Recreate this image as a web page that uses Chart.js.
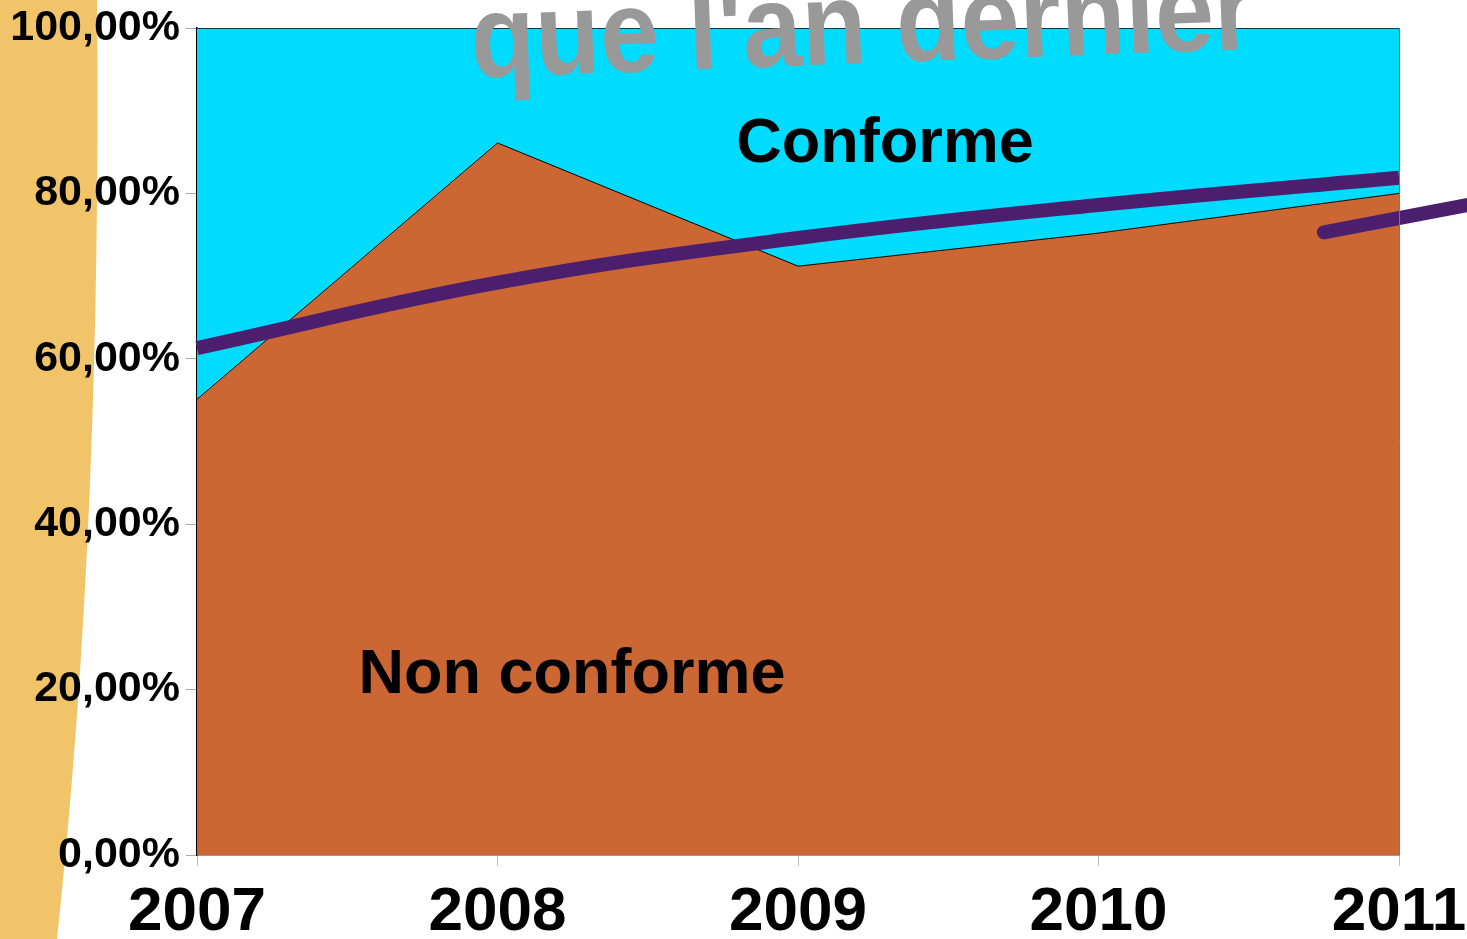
<!DOCTYPE html>
<html>
<head>
<meta charset="utf-8">
<script src="https://cdn.jsdelivr.net/npm/chart.js@4.4.1/dist/chart.umd.min.js"></script>
<style>
  html, body { margin: 0; padding: 0; background: #fff; }
  #wrap { width: 1467px; height: 939px; position: relative; }
</style>
</head>
<body>
<div id="wrap"><canvas id="conformiteChart"></canvas></div>
<script>
// Data
const years = [2007, 2008, 2009, 2010, 2011];
const nonConforme = [55.1, 86.1, 71.2, 75.2, 80.0];
const conforme = [44.9, 13.9, 28.8, 24.8, 20.0];
const tendance = [61.3, 69.2, 74.6, 78.6, 81.9];
// the loose purple stroke at the right edge
const suiteX = [2010.75, 2011.23];
const suiteY = [75.3, 78.6];
const yTicks = [0, 20, 40, 60, 80, 100];

const FONT = '"Liberation Sans", Arial, sans-serif';

// Background decoration + free text
const decorPlugin = {
  id: 'decor',
  beforeDraw(chart) {
    const ctx = chart.ctx;
    ctx.save();
    ctx.fillStyle = '#F2C46A';
    ctx.beginPath();
    ctx.moveTo(0, 0);
    ctx.lineTo(97, 0);
    ctx.quadraticCurveTo(102, 520, 57, 939);
    ctx.lineTo(0, 939);
    ctx.closePath();
    ctx.fill();
    ctx.restore();
  },
  afterDatasetsDraw(chart) {
    const ctx = chart.ctx;
    const area = chart.chartArea;
    ctx.save();
    // right border of the plot
    ctx.strokeStyle = '#777';
    ctx.lineWidth = 1;
    ctx.beginPath();
    ctx.moveTo(area.right + 0.5, area.top);
    ctx.lineTo(area.right + 0.5, area.bottom);
    ctx.stroke();

    ctx.fillStyle = '#000';
    ctx.font = 'bold 63px ' + FONT;
    ctx.textAlign = 'center';
    ctx.textBaseline = 'alphabetic';
    ctx.fillText('Conforme', 885, 162);
    ctx.fillText('Non conforme', 572, 693);

    // title fragment, cut by the top edge
    ctx.translate(864, 63);
    ctx.rotate(-2.1 * Math.PI / 180);
    ctx.scale(1.06, 1.18);
    ctx.fillStyle = '#999999';
    ctx.font = 'bold 100px ' + FONT;
    ctx.fillText("que l'an dernier", 0, 0);
    ctx.restore();
  }
};

const ctx = document.getElementById('conformiteChart');
new Chart(ctx, {
  type: 'line',
  data: {
    datasets: [{
      label: 'Non conforme',
      data: years.map((y, i) => ({ x: y, y: nonConforme[i] })),
      backgroundColor: '#CC6633',
      borderColor: '#000',
      borderWidth: 1,
      fill: 'origin',
      pointRadius: 0,
      tension: 0,
      stack: 'area'
    }, {
      label: 'Conforme',
      data: years.map((y, i) => ({ x: y, y: conforme[i] })),
      backgroundColor: '#00DCFF',
      borderColor: '#000',
      borderWidth: 1.5,
      fill: '-1',
      pointRadius: 0,
      tension: 0,
      stack: 'area'
    }, {
      label: 'Tendance',
      data: years.map((y, i) => ({ x: y, y: tendance[i] })),
      borderColor: '#4C1F6E',
      borderWidth: 14,
      fill: false,
      pointRadius: 0,
      tension: 0.4,
      borderCapStyle: 'butt',
      clip: false,
      order: -1,
      stack: 'trend'
    }, {
      label: 'Suite',
      data: suiteX.map((x, i) => ({ x: x, y: suiteY[i] })),
      borderColor: '#4C1F6E',
      borderWidth: 14,
      fill: false,
      pointRadius: 0,
      tension: 0,
      borderCapStyle: 'round',
      clip: false,
      order: -1,
      stack: 'suite'
    }]
  },
  options: {
    responsive: true,
    maintainAspectRatio: false,
    animation: false,
    layout: {
      padding: { left: 0, top: 28, right: 68, bottom: 0 }
    },
    plugins: {
      legend: { display: false },
      tooltip: { enabled: false }
    },
    scales: {
      x: {
        type: 'linear',
        min: 2007,
        max: 2011,
        afterFit: function(scale) {
          scale.height = 84;
          scale.paddingLeft = 0;
          scale.paddingRight = 0;
        },
        afterBuildTicks: function(scale) {
          scale.ticks = years.map(v => ({ value: v }));
        },
        ticks: {
          callback: function(value) { return String(value); },
          color: '#000',
          padding: 10,
          maxRotation: 0,
          autoSkip: false,
          font: { family: FONT, size: 62, weight: 'bold' }
        },
        grid: {
          drawOnChartArea: false,
          tickLength: 11,
          tickColor: '#bbb'
        },
        border: { color: '#333', width: 1.5 }
      },
      y: {
        stacked: true,
        min: 0,
        max: 100,
        afterFit: function(scale) {
          scale.width = 197;
          scale.paddingTop = 0;
          scale.paddingBottom = 0;
        },
        afterBuildTicks: function(scale) {
          scale.ticks = yTicks.map(v => ({ value: v }));
        },
        ticks: {
          callback: function(value) {
            return value.toFixed(2).replace('.', ',') + '%';
          },
          color: '#000',
          padding: 6,
          font: { family: FONT, size: 43, weight: 'bold' }
        },
        grid: {
          drawOnChartArea: false,
          tickLength: 11,
          tickColor: '#aaa'
        },
        border: { color: '#000', width: 1.5 }
      }
    }
  },
  plugins: [decorPlugin]
});
</script>
</body>
</html>
